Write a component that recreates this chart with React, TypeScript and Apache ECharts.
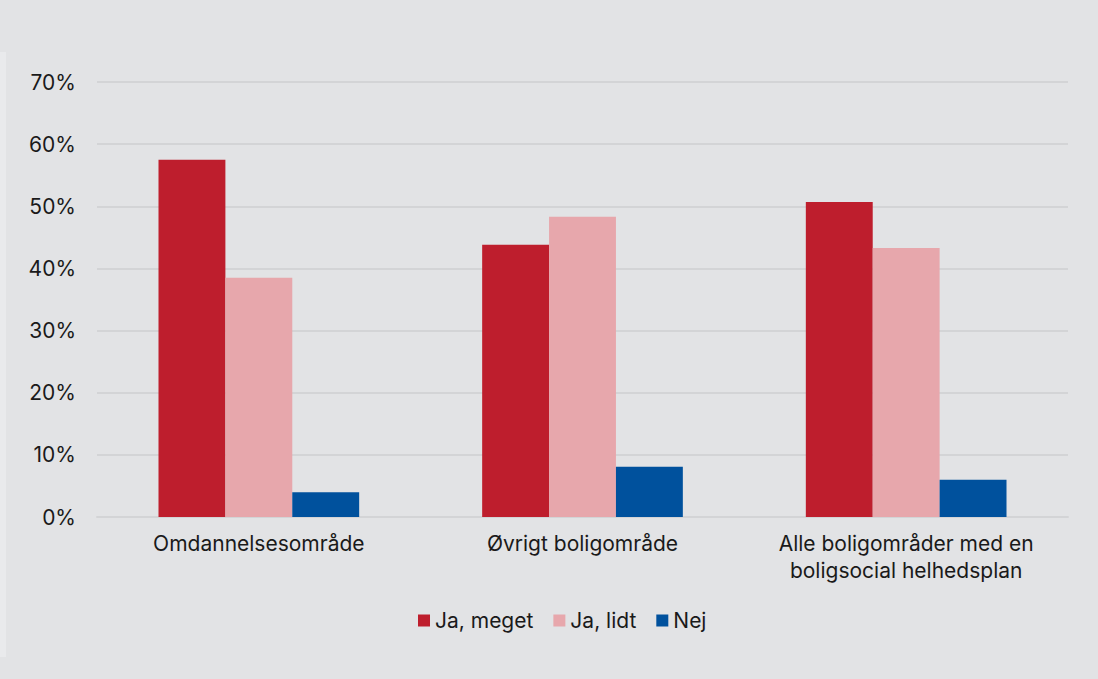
import React, { useEffect, useRef } from "react";
import * as echarts from "echarts";

const categories = [
  "Omdannelsesområde",
  "Øvrigt boligområde",
  "Alle boligområder med en\nboligsocial helhedsplan",
];
const seriesNames = ["Ja, meget", "Ja, lidt", "Nej"];
const jaMeget = [57.5, 43.8, 50.7];
const jaLidt = [38.5, 48.3, 43.3];
const nej = [4.0, 8.1, 6.0];
const yTicks = [0, 10, 20, 30, 40, 50, 60, 70];

const colors = ["#be1e2d", "#e7a7ac", "#00519d"];
const FONT = "Inter, 'Noto Sans', sans-serif";

export default function App() {
  const ref = useRef<HTMLDivElement>(null);
  useEffect(() => {
    document.body.style.margin = "0";
    document.body.style.background = "#e2e3e5";
    const chart = echarts.init(ref.current!, null, { renderer: "svg" });
    const data = [jaMeget, jaLidt, nej];
    chart.setOption({
      animation: false,
      backgroundColor: "#e2e3e5",
      textStyle: { fontFamily: FONT },
      graphic: [
        {
          type: "rect",
          shape: { x: 0, y: 52, width: 6, height: 605 },
          style: { fill: "#e9eaec" },
          silent: true,
        },
      ],
      grid: { left: 97, right: 30, top: 82, bottom: 162 },
      legend: {
        data: seriesNames,
        left: 413,
        top: 605,
        icon: "rect",
        itemWidth: 12,
        itemHeight: 12,
        itemGap: 20,
        textStyle: { fontSize: 21, color: "#1a1a1a", fontFamily: FONT },
      },
      xAxis: {
        type: "category",
        data: categories,
        axisLine: { show: true, lineStyle: { color: "#d3d4d6", width: 2 } },
        axisTick: { show: false },
        axisLabel: {
          fontSize: 21,
          color: "#1a1a1a",
          margin: 13,
          lineHeight: 27,
          fontFamily: FONT,
          interval: 0,
        },
      },
      yAxis: {
        type: "value",
        min: yTicks[0],
        max: yTicks[yTicks.length - 1],
        interval: 10,
        axisLine: { show: false },
        axisTick: { show: false },
        splitLine: { lineStyle: { color: "#d3d4d6", width: 2 } },
        axisLabel: {
          fontSize: 21,
          color: "#1a1a1a",
          margin: 21,
          fontFamily: FONT,
          formatter: (v: number) => `${v}%`,
        },
      },
      series: seriesNames.map((name, i) => ({
        name,
        type: "bar",
        data: data[i],
        barGap: "0%",
        barCategoryGap: "38%",
        itemStyle: { color: colors[i] },
      })),
    });
    return () => chart.dispose();
  }, []);
  return <div ref={ref} style={{ width: 1098, height: 679 }} />;
}
